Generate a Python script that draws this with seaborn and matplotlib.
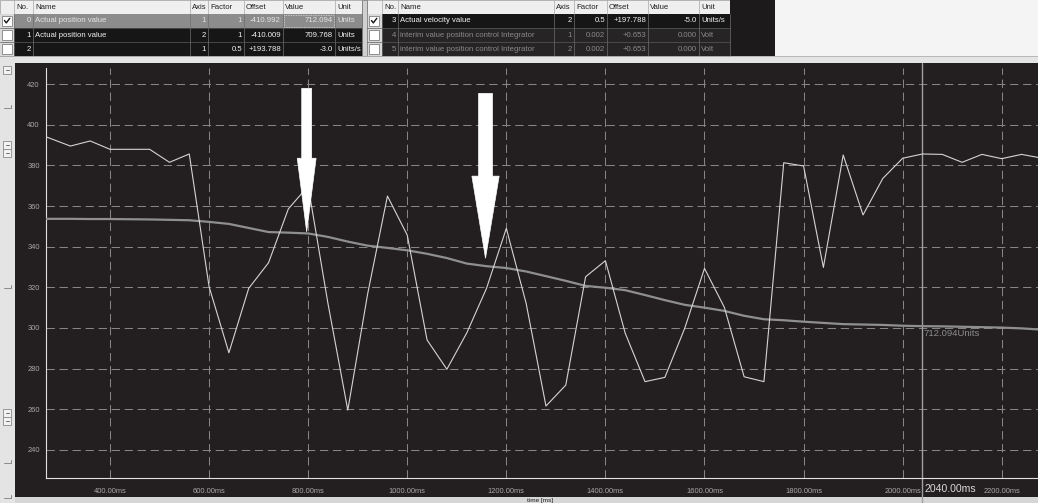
import matplotlib
matplotlib.use("Agg")
import matplotlib.pyplot as plt
from matplotlib.patches import Rectangle, Polygon
import pandas as pd
import seaborn as sns

# ---------------------------------------------------------------- data
time_ms = list(range(240, 2281, 40))

# channel 1: actual position value (oscillating trace)
actual_position = [
    397.0,
    393.2, 389.5, 392.0, 387.9, 387.9, 387.9, 381.5, 385.6, 320.3, 287.8,
    319.5, 332.1, 358.6, 369.8, 312.0, 259.6, 316.7, 364.9, 345.7, 294.1,
    279.7, 297.5, 319.5, 349.0, 312.1, 261.6, 271.9, 325.2, 333.1, 297.4,
    273.6, 275.7, 299.8, 329.3, 310.2, 276.0, 273.6, 381.3, 379.7, 329.8,
    385.1, 355.6, 373.6, 383.5, 385.6, 385.4, 381.5, 385.4, 383.3, 385.4,
    383.6,
]

# channel 0: actual position value (slow trace)
position_trend = [
    353.7,
    353.7, 353.7, 353.6, 353.6, 353.5, 353.4, 353.2, 353.0, 352.2, 351.2,
    349.2, 347.2, 346.9, 346.5, 344.8, 342.5, 340.5, 339.4, 338.2, 336.5,
    334.4, 331.7, 330.4, 329.5, 327.8, 325.5, 323.2, 320.7, 319.8, 318.6,
    316.2, 313.7, 311.4, 310.0, 308.4, 306.0, 304.3, 303.8, 303.1, 302.5,
    301.9, 301.7, 301.5, 301.1, 300.9, 300.8, 300.6, 300.4, 300.2, 299.8,
    299.2,
]

x_ticks = [400, 600, 800, 1000, 1200, 1400, 1600, 1800, 2000, 2200]
x_tick_labels = ["400.00ms", "600.00ms", "800.00ms", "1000.00ms", "1200.00ms",
                 "1400.00ms", "1600.00ms", "1800.00ms", "2000.00ms", "2200.00ms"]
y_ticks = [240, 260, 280, 300, 320, 340, 360, 380, 400, 420]
y_tick_labels = ["240", "260", "280", "300", "320", "340", "360", "380", "400", "420"]

cursor_ms = 2040
cursor_label = "2040.00ms"
cursor_value_label = "712.094Units"
cursor_value_level = 297.5

# marker arrows: (time, tip value, tail value, shaft width, head width, head length)
arrow_marks = [
    (797, 347.3, 417.9, 20, 38, 36.2),
    (1158, 334.3, 415.4, 28, 55, 40.4),
]

# channel tables
table_headers = ["", "No.", "Name", "Axis", "Factor", "Offset", "Value", "Unit"]
left_rows = [
    ["0", "Actual position value", "1", "1", "-410.992", "712.094", "Units"],
    ["1", "Actual position value", "2", "1", "-410.009", "709.768", "Units"],
    ["2", "", "1", "0.5", "+193.788", "-3.0", "Units/s"],
]
left_checked = [True, False, False]
right_rows = [
    ["3", "Actual velocity value", "2", "0.5", "+197.788", "-5.0", "Units/s"],
    ["4", "interim value position control Integrator", "1", "0.002", "+0.653", "0.000", "Volt"],
    ["5", "interim value position control Integrator", "2", "0.002", "+0.653", "0.000", "Volt"],
]
right_checked = [True, False, False]

# ---------------------------------------------------------------- style
sns.set_theme(style="dark")
plt.rcParams["font.family"] = ["Liberation Sans", "DejaVu Sans"]

SCREEN_BG = "#231f20"
PANEL_BG = "#e4e4e4"

fig = plt.figure(figsize=(10.38, 5.03), dpi=100)
fig.patch.set_facecolor("#f4f4f4")

# pixel-space canvas for the window furniture
bg = fig.add_axes([0, 0, 1, 1], zorder=0)
bg.set_xlim(0, 1038)
bg.set_ylim(503, 0)
bg.axis("off")

# scope screen and surrounding panels
bg.add_patch(Rectangle((0, 56), 1038, 447, color=PANEL_BG, lw=0))
bg.add_patch(Rectangle((15, 63), 1023, 434, color=SCREEN_BG, lw=0))
bg.add_patch(Rectangle((15, 497), 1023, 6, color="#d6d6d6", lw=0))

# small scroll buttons on the left strip
for yb in [66, 141, 149, 409, 417]:
    bg.add_patch(Rectangle((3, yb), 8, 8, facecolor="#f2f2f2",
                           edgecolor="#8a8a8a", lw=0.6))
    bg.plot([5.5, 8.5], [yb + 4, yb + 4], color="#555555", lw=0.6)
for ym in [108, 288, 463, 498]:
    bg.plot([4, 11, 11], [ym, ym, ym - 3], color="#8a8a8a", lw=0.7)


def draw_table(cols, rows, checked, styles):
    aligns = ["c", "r", "l", "r", "r", "r", "r", "l"]
    x0, x1 = cols[0], cols[-1]
    # header
    bg.add_patch(Rectangle((x0, 0), x1 - x0, 13.5, facecolor="#efefef",
                           edgecolor="#9a9a9a", lw=0.5))
    for c in cols[1:-1]:
        bg.plot([c, c], [0, 13.5], color="#a8a8a8", lw=0.5)
    for j, h in enumerate(table_headers):
        if h:
            bg.text(cols[j] + 2, 7.2, h, fontsize=5.6, color="#202020",
                    ha="left", va="center")
    row_h = 14.2
    for i, row in enumerate(rows):
        top = 13.5 + i * row_h
        face, txt = styles[i]
        bg.add_patch(Rectangle((cols[0], top), cols[1] - cols[0], row_h,
                               facecolor="#d9d9d9", lw=0))
        bg.add_patch(Rectangle((cols[1], top), x1 - cols[1], row_h,
                               facecolor=face, lw=0))
        bg.add_patch(Rectangle((cols[0] + 2, top + 2.2), 10, 10,
                               facecolor="white", edgecolor="#808080", lw=0.6))
        if checked[i]:
            cx, cy = cols[0] + 2, top + 2.2
            bg.plot([cx + 2.5, cx + 4.3, cx + 7.8], [cy + 4.8, cy + 7.2, cy + 2.6],
                    color="#111111", lw=1.0)
        for c in cols[1:]:
            bg.plot([c, c], [top, top + row_h], color="#6e6e6e", lw=0.5)
        bg.plot([x0, x1], [top + row_h, top + row_h], color="#5a5a5a", lw=0.5)
        for j, val in enumerate(row, start=1):
            if not val:
                continue
            if aligns[j] == "r":
                xt, ha = cols[j + 1] - 2, "right"
            else:
                xt, ha = cols[j] + 2, "left"
            bg.text(xt, top + row_h / 2 + 0.3, val, fontsize=5.6, color=txt,
                    ha=ha, va="center")


left_cols = [0, 14, 33, 190, 208, 244, 283, 335, 362]
right_cols = [367, 382, 398, 554, 574, 607, 648, 699, 730]
draw_table(left_cols, left_rows, left_checked,
           [("#8c8c8c", "#e4e4e4"), ("#161616", "#f2f2f2"), ("#161616", "#f2f2f2")])
draw_table(right_cols, right_rows, right_checked,
           [("#161616", "#f2f2f2"), ("#272425", "#8a8a8a"), ("#272425", "#8a8a8a")])
# focus frame on the selected value cell
bg.add_patch(Rectangle((284, 14.5), 50, 12.2, fill=False, edgecolor="#d8d8d8",
                       lw=0.6, linestyle=(0, (1, 1))))
# narrow trailing cells
bg.add_patch(Rectangle((362, 0), 5, 56, facecolor="#d0d0d0", edgecolor="#707070", lw=0.5))
bg.add_patch(Rectangle((730, 0), 45, 56, facecolor="#1c1a1b", lw=0))
bg.plot([0, 1038], [56, 56], color="#b0b0b0", lw=0.6)

# axis caption in the bottom strip
bg.text(540, 500.2, "time [ms]", fontsize=4.6, color="#202020",
        ha="center", va="center")

# ---------------------------------------------------------------- plot
ax = fig.add_axes([46 / 1038, 25 / 503, 992 / 1038, 410 / 503], zorder=1)
ax.set_facecolor("none")

df = pd.DataFrame({"time_ms": time_ms,
                   "actual_position": actual_position,
                   "position_trend": position_trend})

ax.set_xlim(270.8, 2273.2)
ax.set_ylim(226.2, 427.9)

grid_style = dict(color="#858585", linewidth=0.75, linestyle=(0, (8, 4.5)))
ax.set_xticks(x_ticks)
ax.set_xticklabels(x_tick_labels)
ax.set_yticks(y_ticks)
ax.set_yticklabels(y_tick_labels)
ax.grid(True, **grid_style)
ax.set_axisbelow(True)

sns.lineplot(data=df, x="time_ms", y="position_trend", ax=ax,
             color="#8f8f8f", linewidth=1.6, zorder=3)
sns.lineplot(data=df, x="time_ms", y="actual_position", ax=ax,
             color="#d4d4d4", linewidth=0.8, zorder=4)

ax.set_xlabel("")
ax.set_ylabel("")
for side in ["top", "right"]:
    ax.spines[side].set_visible(False)
for side in ["left", "bottom"]:
    ax.spines[side].set_visible(True)
    ax.spines[side].set_color("#e0e0e0")
    ax.spines[side].set_linewidth(0.8)

ax.tick_params(axis="both", colors="#bdbdbd", labelcolor="#a8a8a8",
               labelsize=5.4, width=0.7, direction="out")
ax.tick_params(axis="x", length=4.5, pad=2.5)
ax.tick_params(axis="y", length=3, pad=1.5)

# measurement cursor
ax.axvline(cursor_ms, ymin=-25 / 410, ymax=415 / 410, clip_on=False,
           color="#a0a0a0", linewidth=1.0, zorder=2)
ax.annotate(cursor_label, xy=(cursor_ms, 0), xycoords=("data", "axes fraction"),
            xytext=(1.5, -7.6), textcoords="offset points", fontsize=7.6,
            color="#d8d8d8", ha="left", va="center", annotation_clip=False)
ax.annotate(cursor_value_label, xy=(cursor_ms, cursor_value_level),
            xytext=(0.5, 0), textcoords="offset points", fontsize=6.8,
            color="#8c8c8c", ha="left", va="center", zorder=2)

# marker arrows
for t, tip, tail, sw, hw, hl in arrow_marks:
    pts = [(t - sw / 2, tail), (t + sw / 2, tail), (t + sw / 2, tip + hl),
           (t + hw / 2, tip + hl), (t, tip), (t - hw / 2, tip + hl),
           (t - sw / 2, tip + hl)]
    ax.add_patch(Polygon(pts, closed=True, facecolor="white",
                         edgecolor="white", lw=0.5, zorder=6))

fig.savefig("out.png", dpi=100, facecolor=fig.get_facecolor())
